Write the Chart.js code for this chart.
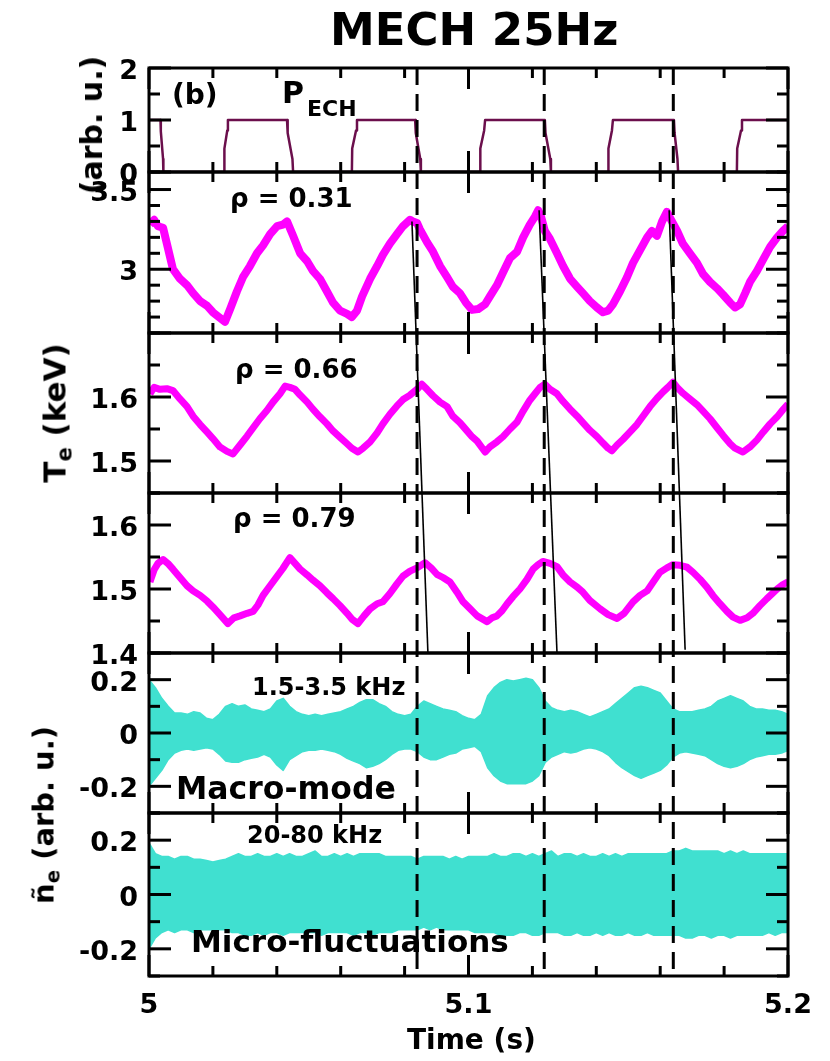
<!DOCTYPE html>
<html>
<head>
<meta charset="utf-8">
<script src="https://cdn.jsdelivr.net/npm/chart.js@4.4.0/dist/chart.umd.min.js"></script>
<style>
  body { margin: 0; background: #fff; }
  #wrap { position: relative; width: 830px; height: 1061px; }
  #c { position: absolute; left: 0; top: 0; }
  .t { position: absolute; font-family: 'DejaVu Sans'; font-weight: bold; line-height: 1; white-space: nowrap; color: #000; }
  .rot { transform: translate(-50%, -50%) rotate(-90deg); }
  .sub { font-size: 0.68em; position: relative; top: 0.28em; }
</style>
</head>
<body>
<div id="wrap">
  <canvas id="c" width="830" height="1061"></canvas>
  <div class="t" style="left:330px;top:7px;font-size:45px">MECH 25Hz</div>
  <div class="t" style="left:172px;top:81px;font-size:28px">(b)</div>
  <div class="t" style="left:282px;top:78px;font-size:30px">P</div>
  <div class="t" style="left:307px;top:98px;font-size:22px">ECH</div>
  <div class="t" style="left:230px;top:185px;font-size:26px">ρ = 0.31</div>
  <div class="t" style="left:235px;top:356px;font-size:26px">ρ = 0.66</div>
  <div class="t" style="left:233px;top:505px;font-size:26px">ρ = 0.79</div>
  <div class="t" style="left:252px;top:675px;font-size:24px">1.5-3.5 kHz</div>
  <div class="t" style="left:176px;top:773px;font-size:31.5px">Macro-mode</div>
  <div class="t" style="left:247px;top:823px;font-size:24px">20-80 kHz</div>
  <div class="t" style="left:191px;top:926px;font-size:31px">Micro-fluctuations</div>
  <div class="t" style="left:407px;top:1026px;font-size:28px">Time (s)</div>
  <div class="t rot" style="left:92px;top:125px;font-size:30px">(arb. u.)</div>
  <div class="t rot" style="left:55px;top:413px;font-size:31px">T<span class="sub">e</span> (keV)</div>
  <div class="t rot" style="left:44px;top:815px;font-size:29px">ñ<span class="sub">e</span> (arb. u.)</div>
</div>
<script>
// time axis
const xTickLabels = [5, 5.1, 5.2]

// ECH power (arb. u.)
const echTime = [5.0, 5.0036, 5.0037, 5.0044, 5.0045,
  5.0235, 5.0236, 5.0245, 5.0247, 5.0432, 5.0434, 5.0449, 5.0451,
  5.0635, 5.0636, 5.0648, 5.0651, 5.0833, 5.0835, 5.0849, 5.0851,
  5.1036, 5.1037, 5.1049, 5.1052, 5.1239, 5.1241, 5.1256, 5.1258,
  5.1437, 5.1438, 5.1449, 5.1452, 5.1643, 5.1645, 5.1654, 5.1656,
  5.1840, 5.1841, 5.1853, 5.1856, 5.2]
const echPower = [1, 1, 0.78, 0.25, 0,
  0, 0.45, 0.8, 1, 1, 0.75, 0.25, 0,
  0, 0.45, 0.8, 1, 1, 0.75, 0.25, 0,
  0, 0.45, 0.8, 1, 1, 0.75, 0.25, 0,
  0, 0.45, 0.8, 1, 1, 0.75, 0.25, 0,
  0, 0.45, 0.8, 1, 1]

// Te at rho = 0.31 (keV)
const te031Time = [5.0003, 5.0016, 5.0028, 5.0044, 5.0056, 5.0075, 5.0097, 5.0119, 5.0138, 5.0160,
  5.0182, 5.0200, 5.0219, 5.0238, 5.0254, 5.0275, 5.0294, 5.0316, 5.0338, 5.0357,
  5.0379, 5.0401, 5.0419, 5.0432, 5.0451, 5.0473, 5.0495, 5.0513, 5.0535, 5.0557,
  5.0576, 5.0598, 5.0620, 5.0635, 5.0651, 5.0667, 5.0692, 5.0714, 5.0732, 5.0754,
  5.0776, 5.0795, 5.0817, 5.0826, 5.0839, 5.0848, 5.0870, 5.0889, 5.0911, 5.0933,
  5.0951, 5.0973, 5.0992, 5.1011, 5.1030, 5.1052, 5.1067, 5.1089, 5.1108, 5.1130,
  5.1152, 5.1171, 5.1192, 5.1208, 5.1218, 5.1227, 5.1239, 5.1255, 5.1277, 5.1296,
  5.1318, 5.1340, 5.1358, 5.1380, 5.1402, 5.1421, 5.1437, 5.1452, 5.1474, 5.1496,
  5.1515, 5.1537, 5.1559, 5.1574, 5.1590, 5.1606, 5.1621, 5.1634, 5.1653, 5.1671,
  5.1693, 5.1715, 5.1734, 5.1756, 5.1778, 5.1797, 5.1819, 5.1834, 5.1850, 5.1866,
  5.1881, 5.1903, 5.1922, 5.1944, 5.1966, 5.1984, 5.2000]
const te031 = [3.28, 3.31, 3.27, 3.26, 3.16, 3.00, 2.94, 2.90, 2.85, 2.80,
  2.77, 2.73, 2.70, 2.67, 2.75, 2.86, 2.95, 3.02, 3.10, 3.15,
  3.22, 3.27, 3.28, 3.30, 3.21, 3.10, 3.05, 2.99, 2.94, 2.86,
  2.79, 2.74, 2.72, 2.70, 2.74, 2.83, 2.94, 3.02, 3.09, 3.16,
  3.22, 3.27, 3.31, 3.30, 3.29, 3.25, 3.17, 3.11, 3.02, 2.95,
  2.89, 2.85, 2.79, 2.745, 2.75, 2.78, 2.83, 2.90, 2.98, 3.07,
  3.11, 3.20, 3.28, 3.33, 3.37, 3.33, 3.24, 3.19, 3.10, 3.02,
  2.94, 2.89, 2.85, 2.80, 2.76, 2.73, 2.74, 2.78, 2.86, 2.95,
  3.04, 3.12, 3.20, 3.24, 3.21, 3.30, 3.36, 3.31, 3.24, 3.16,
  3.10, 3.04, 2.97, 2.92, 2.88, 2.84, 2.79, 2.76, 2.78, 2.85,
  2.92, 2.99, 3.06, 3.14, 3.20, 3.24, 3.27]

// Te at rho = 0.66 (keV)
const te066Time = [5.0003, 5.0016, 5.0034, 5.0056, 5.0075, 5.0097, 5.0119, 5.0138, 5.0160, 5.0182,
  5.0200, 5.0222, 5.0244, 5.0263, 5.0285, 5.0307, 5.0326, 5.0347, 5.0369, 5.0388,
  5.0410, 5.0426, 5.0441, 5.0457, 5.0473, 5.0495, 5.0513, 5.0535, 5.0557, 5.0576,
  5.0598, 5.0620, 5.0635, 5.0654, 5.0670, 5.0692, 5.0714, 5.0732, 5.0754, 5.0776,
  5.0795, 5.0817, 5.0839, 5.0854, 5.0870, 5.0889, 5.0911, 5.0933, 5.0951, 5.0973,
  5.0992, 5.1011, 5.1027, 5.1052, 5.1067, 5.1089, 5.1108, 5.1130, 5.1152, 5.1171,
  5.1192, 5.1208, 5.1224, 5.1239, 5.1255, 5.1277, 5.1296, 5.1318, 5.1340, 5.1358,
  5.1380, 5.1402, 5.1421, 5.1437, 5.1449, 5.1465, 5.1484, 5.1505, 5.1527, 5.1546,
  5.1568, 5.1590, 5.1609, 5.1624, 5.1640, 5.1653, 5.1671, 5.1693, 5.1715, 5.1734,
  5.1756, 5.1778, 5.1797, 5.1819, 5.1834, 5.1859, 5.1881, 5.1903, 5.1922, 5.1944,
  5.1966, 5.1984, 5.2000]
const te066 = [1.605, 1.615, 1.612, 1.613, 1.610, 1.597, 1.585, 1.570, 1.557, 1.545,
  1.535, 1.522, 1.515, 1.511, 1.525, 1.539, 1.552, 1.566, 1.579, 1.592,
  1.605, 1.617, 1.615, 1.612, 1.603, 1.592, 1.581, 1.569, 1.558, 1.547,
  1.537, 1.527, 1.520, 1.514, 1.520, 1.530, 1.544, 1.558, 1.573, 1.586,
  1.596, 1.603, 1.612, 1.620, 1.612, 1.602, 1.592, 1.585, 1.570, 1.560,
  1.549, 1.538, 1.531, 1.514, 1.522, 1.530, 1.538, 1.550, 1.561, 1.578,
  1.595, 1.605, 1.615, 1.620, 1.612, 1.605, 1.593, 1.581, 1.570, 1.560,
  1.548, 1.538, 1.528, 1.520, 1.516, 1.525, 1.534, 1.545, 1.557, 1.570,
  1.585, 1.598, 1.608, 1.615, 1.623, 1.615, 1.606, 1.597, 1.588, 1.578,
  1.566, 1.552, 1.540, 1.527, 1.520, 1.514, 1.522, 1.533, 1.545, 1.558,
  1.569, 1.580, 1.589]

// Te at rho = 0.79 (keV)
const te079Time = [5.0003, 5.0016, 5.0028, 5.0044, 5.0059, 5.0075, 5.0097, 5.0119, 5.0138, 5.0160,
  5.0182, 5.0200, 5.0222, 5.0247, 5.0266, 5.0285, 5.0307, 5.0326, 5.0341, 5.0357,
  5.0379, 5.0401, 5.0419, 5.0441, 5.0457, 5.0473, 5.0495, 5.0513, 5.0535, 5.0557,
  5.0576, 5.0598, 5.0620, 5.0635, 5.0654, 5.0673, 5.0692, 5.0714, 5.0732, 5.0754,
  5.0776, 5.0795, 5.0817, 5.0839, 5.0864, 5.0883, 5.0901, 5.0920, 5.0942, 5.0964,
  5.0983, 5.1005, 5.1027, 5.1058, 5.1074, 5.1089, 5.1105, 5.1121, 5.1139, 5.1161,
  5.1183, 5.1202, 5.1218, 5.1233, 5.1255, 5.1277, 5.1296, 5.1318, 5.1340, 5.1358,
  5.1380, 5.1412, 5.1437, 5.1465, 5.1487, 5.1515, 5.1537, 5.1559, 5.1577, 5.1599,
  5.1621, 5.1640, 5.1662, 5.1684, 5.1703, 5.1725, 5.1746, 5.1765, 5.1787, 5.1809,
  5.1828, 5.1850, 5.1872, 5.1890, 5.1912, 5.1934, 5.1966, 5.1984, 5.2000]
const te079 = [1.511, 1.530, 1.540, 1.546, 1.540, 1.531, 1.518, 1.505, 1.497, 1.490,
  1.481, 1.472, 1.460, 1.446, 1.455, 1.458, 1.462, 1.465, 1.475, 1.490,
  1.505, 1.520, 1.532, 1.549, 1.540, 1.531, 1.522, 1.514, 1.505, 1.494,
  1.485, 1.474, 1.462, 1.453, 1.446, 1.458, 1.469, 1.477, 1.480, 1.493,
  1.508, 1.520, 1.528, 1.533, 1.541, 1.533, 1.523, 1.518, 1.511, 1.495,
  1.480, 1.469, 1.458, 1.449, 1.455, 1.458, 1.466, 1.477, 1.488, 1.500,
  1.515, 1.531, 1.538, 1.543, 1.540, 1.535, 1.522, 1.511, 1.503, 1.495,
  1.482, 1.469, 1.460, 1.454, 1.462, 1.480, 1.490, 1.497, 1.510, 1.526,
  1.533, 1.538, 1.537, 1.534, 1.526, 1.515, 1.503, 1.490, 1.477, 1.465,
  1.456, 1.451, 1.455, 1.462, 1.474, 1.485, 1.500, 1.507, 1.511]

// density fluctuation envelopes (arb. u.)
const fluctTime = [5.000, 5.002, 5.004, 5.006, 5.008, 5.010, 5.012, 5.014, 5.016, 5.018,
  5.020, 5.022, 5.024, 5.026, 5.028, 5.030, 5.032, 5.034, 5.036, 5.038,
  5.040, 5.042, 5.044, 5.046, 5.048, 5.050, 5.052, 5.054, 5.056, 5.058,
  5.060, 5.062, 5.064, 5.066, 5.068, 5.070, 5.072, 5.074, 5.076, 5.078,
  5.080, 5.082, 5.084, 5.086, 5.088, 5.090, 5.092, 5.094, 5.096, 5.098,
  5.100, 5.102, 5.104, 5.106, 5.108, 5.110, 5.112, 5.114, 5.116, 5.118,
  5.120, 5.122, 5.124, 5.126, 5.128, 5.130, 5.132, 5.134, 5.136, 5.138,
  5.140, 5.142, 5.144, 5.146, 5.148, 5.150, 5.152, 5.154, 5.156, 5.158,
  5.160, 5.162, 5.164, 5.166, 5.168, 5.170, 5.172, 5.174, 5.176, 5.178,
  5.180, 5.182, 5.184, 5.186, 5.188, 5.190, 5.192, 5.194, 5.196, 5.198,
  5.200]
const macroUpper = [0.20, 0.17, 0.13, 0.10, 0.075, 0.075, 0.07, 0.08, 0.075, 0.055,
  0.05, 0.07, 0.10, 0.11, 0.10, 0.105, 0.09, 0.085, 0.08, 0.09,
  0.12, 0.13, 0.10, 0.08, 0.07, 0.065, 0.07, 0.065, 0.07, 0.075,
  0.08, 0.09, 0.10, 0.115, 0.125, 0.125, 0.11, 0.10, 0.08, 0.07,
  0.065, 0.07, 0.10, 0.12, 0.11, 0.10, 0.09, 0.085, 0.08, 0.065,
  0.055, 0.05, 0.07, 0.14, 0.17, 0.19, 0.20, 0.195, 0.20, 0.205,
  0.20, 0.17, 0.12, 0.095, 0.085, 0.08, 0.085, 0.08, 0.07, 0.06,
  0.07, 0.08, 0.09, 0.11, 0.13, 0.15, 0.17, 0.175, 0.17, 0.16,
  0.15, 0.12, 0.09, 0.08, 0.08, 0.08, 0.085, 0.09, 0.10, 0.12,
  0.13, 0.14, 0.13, 0.12, 0.10, 0.09, 0.09, 0.085, 0.085, 0.08,
  0.07]
const macroLower = [-0.20, -0.17, -0.14, -0.10, -0.075, -0.065, -0.06, -0.065, -0.06, -0.055,
  -0.06, -0.08, -0.105, -0.11, -0.11, -0.10, -0.095, -0.09, -0.08, -0.09,
  -0.12, -0.14, -0.10, -0.085, -0.07, -0.065, -0.065, -0.06, -0.065, -0.07,
  -0.08, -0.095, -0.105, -0.115, -0.13, -0.125, -0.115, -0.10, -0.08, -0.065,
  -0.06, -0.06, -0.07, -0.09, -0.10, -0.10, -0.09, -0.08, -0.075, -0.06,
  -0.055, -0.05, -0.07, -0.13, -0.16, -0.18, -0.19, -0.19, -0.19, -0.19,
  -0.18, -0.16, -0.11, -0.09, -0.08, -0.07, -0.075, -0.07, -0.06, -0.055,
  -0.06, -0.07, -0.085, -0.11, -0.13, -0.145, -0.16, -0.17, -0.16, -0.15,
  -0.14, -0.12, -0.09, -0.075, -0.07, -0.075, -0.08, -0.085, -0.10, -0.115,
  -0.125, -0.13, -0.125, -0.115, -0.10, -0.09, -0.085, -0.08, -0.08, -0.075,
  -0.065]
const microUpper = [0.19, 0.15, 0.14, 0.14, 0.13, 0.14, 0.14, 0.13, 0.13, 0.125,
  0.12, 0.125, 0.13, 0.14, 0.15, 0.14, 0.14, 0.15, 0.14, 0.14,
  0.15, 0.14, 0.15, 0.14, 0.14, 0.15, 0.16, 0.14, 0.14, 0.15,
  0.14, 0.15, 0.14, 0.15, 0.15, 0.15, 0.15, 0.14, 0.14, 0.14,
  0.14, 0.14, 0.13, 0.14, 0.14, 0.14, 0.14, 0.13, 0.14, 0.13,
  0.14, 0.14, 0.14, 0.14, 0.15, 0.14, 0.14, 0.15, 0.15, 0.14,
  0.15, 0.14, 0.15, 0.16, 0.14, 0.15, 0.15, 0.14, 0.15, 0.14,
  0.14, 0.15, 0.14, 0.15, 0.14, 0.15, 0.15, 0.15, 0.15, 0.15,
  0.15, 0.15, 0.16, 0.16, 0.17, 0.16, 0.16, 0.16, 0.16, 0.16,
  0.15, 0.16, 0.15, 0.16, 0.15, 0.15, 0.15, 0.15, 0.15, 0.15,
  0.15]
const microLower = [-0.20, -0.16, -0.14, -0.13, -0.14, -0.13, -0.13, -0.14, -0.13, -0.13,
  -0.13, -0.13, -0.13, -0.14, -0.14, -0.15, -0.15, -0.14, -0.15, -0.14,
  -0.14, -0.15, -0.14, -0.14, -0.14, -0.14, -0.14, -0.15, -0.14, -0.14,
  -0.14, -0.14, -0.15, -0.14, -0.14, -0.15, -0.14, -0.14, -0.14, -0.13,
  -0.13, -0.13, -0.13, -0.12, -0.13, -0.12, -0.13, -0.13, -0.13, -0.13,
  -0.13, -0.14, -0.14, -0.14, -0.14, -0.15, -0.15, -0.15, -0.14, -0.14,
  -0.15, -0.15, -0.14, -0.14, -0.14, -0.15, -0.15, -0.14, -0.15, -0.15,
  -0.14, -0.15, -0.14, -0.15, -0.15, -0.14, -0.15, -0.15, -0.14, -0.15,
  -0.15, -0.15, -0.15, -0.15, -0.16, -0.16, -0.15, -0.15, -0.16, -0.15,
  -0.15, -0.16, -0.15, -0.15, -0.15, -0.15, -0.15, -0.14, -0.15, -0.14,
  -0.14]

// ECH switch-off times (dashed) and heat-pulse delay lines
const echOffTime = [5.0839, 5.1237, 5.1641]
const delayTopTime = [5.0823, 5.1221, 5.1628]
const delayTopTe = [3.30, 3.37, 3.37]
const delayBottomTime = [5.0873, 5.1277, 5.1678]
const delayBottomTe = [1.40, 1.40, 1.405]

// y tick labels for each panel
const echTicks = [0, 1, 2]
const te031Ticks = [3, 3.5]
const te066Ticks = [1.5, 1.6]
const te079Ticks = [1.4, 1.5, 1.6]
const macroTicks = [-0.2, 0, 0.2]
const microTicks = [-0.2, 0, 0.2]

const magenta = '#ff00ff'
const turquoise = '#40e0d0'
const tickFont = { family: 'DejaVu Sans', weight: 'bold', size: 27 }

const pts = (xs, ys) => xs.map((x, i) => ({ x: x, y: ys[i] }))
const fmt = v => String(+v.toFixed(3))
const isMajor = (v, m) => Math.abs(v / m - Math.round(v / m)) < 1e-4

// panels top to bottom
const panels = [
  { id: 'yEch', min: 0, max: 2, step: 0.5, major: 1, labels: echTicks, h: 104 },
  { id: 'yTe1', min: 2.6, max: 3.61, step: 0.1, major: 0.5, labels: te031Ticks, h: 161 },
  { id: 'yTe2', min: 1.45, max: 1.70, step: 0.05, major: 0.1, labels: te066Ticks, h: 160 },
  { id: 'yTe3', min: 1.4, max: 1.65, step: 0.05, major: 0.1, labels: te079Ticks, h: 160 },
  { id: 'yMacro', min: -0.3, max: 0.3, step: 0.1, major: 0.2, labels: macroTicks, h: 160 },
  { id: 'yMicro', min: -0.3, max: 0.3, step: 0.1, major: 0.2, labels: microTicks, h: 163 }
]

const scales = {
  x: {
    type: 'linear', min: 5, max: 5.2, position: 'bottom',
    grid: { display: false, drawTicks: false }, border: { display: false },
    ticks: {
      stepSize: 0.02, autoSkip: false, maxRotation: 0, padding: 14, color: '#000', font: tickFont,
      callback: v => xTickLabels.some(l => Math.abs(l - v) < 1e-6) ? fmt(v) : ''
    },
    afterFit: s => { s.height = 85 }
  }
}
panels.forEach((p, i) => {
  scales[p.id] = {
    type: 'linear', position: 'left', stack: 'panels', stackWeight: p.h, weight: panels.length - i,
    min: p.min, max: p.max,
    grid: { display: false, drawTicks: false }, border: { display: false },
    ticks: {
      stepSize: p.step, autoSkip: false, padding: 11, labelOffset: 4, color: '#000', font: tickFont,
      callback: v => p.labels.some(l => Math.abs(l - v) < 1e-6) ? fmt(v) : ''
    },
    afterFit: s => { s.width = 149 }
  }
})

const line = (ctx, x1, y1, x2, y2) => { ctx.beginPath(); ctx.moveTo(x1, y1); ctx.lineTo(x2, y2); ctx.stroke() }

const framePlugin = {
  id: 'frames',
  afterDatasetsDraw(chart) {
    const { ctx, chartArea: a, scales: sc } = chart
    const xs = sc.x
    ctx.save()
    ctx.strokeStyle = '#000'
    // ECH off markers
    ctx.lineWidth = 3
    ctx.setLineDash([17, 9])
    echOffTime.forEach(t => {
      const x = xs.getPixelForValue(t)
      line(ctx, x, a.top, x, a.bottom)
    })
    ctx.setLineDash([])
    // delay lines, rho = 0.31 peak down to bottom of rho = 0.79 panel
    ctx.lineWidth = 1.6
    delayTopTime.forEach((t, i) => {
      line(ctx, xs.getPixelForValue(t), sc.yTe1.getPixelForValue(delayTopTe[i]),
        xs.getPixelForValue(delayBottomTime[i]), sc.yTe3.getPixelForValue(delayBottomTe[i]))
    })
    // frames with inward ticks
    ctx.lineWidth = 3
    panels.forEach(p => {
      const s = sc[p.id]
      ctx.strokeRect(a.left, s.top, a.right - a.left, s.bottom - s.top)
      s.ticks.forEach(tk => {
        const y = s.getPixelForValue(tk.value)
        const len = isMajor(tk.value, p.major) ? 22 : 11
        line(ctx, a.left, y, a.left + len, y)
        line(ctx, a.right, y, a.right - len, y)
      })
      xs.ticks.forEach(tk => {
        const x = xs.getPixelForValue(tk.value)
        const len = isMajor(tk.value, 0.1) ? 21 : 10
        line(ctx, x, s.top, x, s.top + len)
        line(ctx, x, s.bottom, x, s.bottom - len)
      })
    })
    ctx.restore()
  }
}

const trace = (data, axis, color, width) => ({
  data: data, yAxisID: axis, borderColor: color, backgroundColor: color,
  borderWidth: width, pointRadius: 0, tension: 0, borderJoinStyle: 'round', fill: false
})

new Chart(document.getElementById('c'), {
  type: 'line',
  data: {
    datasets: [
      trace(pts(echTime, echPower), 'yEch', '#6b0f4c', 2.5),
      trace(pts(te031Time, te031), 'yTe1', magenta, 8),
      trace(pts(te066Time, te066), 'yTe2', magenta, 7),
      trace(pts(te079Time, te079), 'yTe3', magenta, 7),
      trace(pts(fluctTime, macroUpper), 'yMacro', turquoise, 1.5),
      Object.assign(trace(pts(fluctTime, macroLower), 'yMacro', turquoise, 1.5), { fill: '-1' }),
      trace(pts(fluctTime, microUpper), 'yMicro', turquoise, 1.5),
      Object.assign(trace(pts(fluctTime, microLower), 'yMicro', turquoise, 1.5), { fill: '-1' })
    ]
  },
  options: {
    responsive: false,
    animation: false,
    layout: { padding: { left: 0, right: 42, top: 68, bottom: 0 } },
    scales: scales,
    plugins: { legend: { display: false }, tooltip: { enabled: false } }
  },
  plugins: [framePlugin]
})
</script>
</body>
</html>
